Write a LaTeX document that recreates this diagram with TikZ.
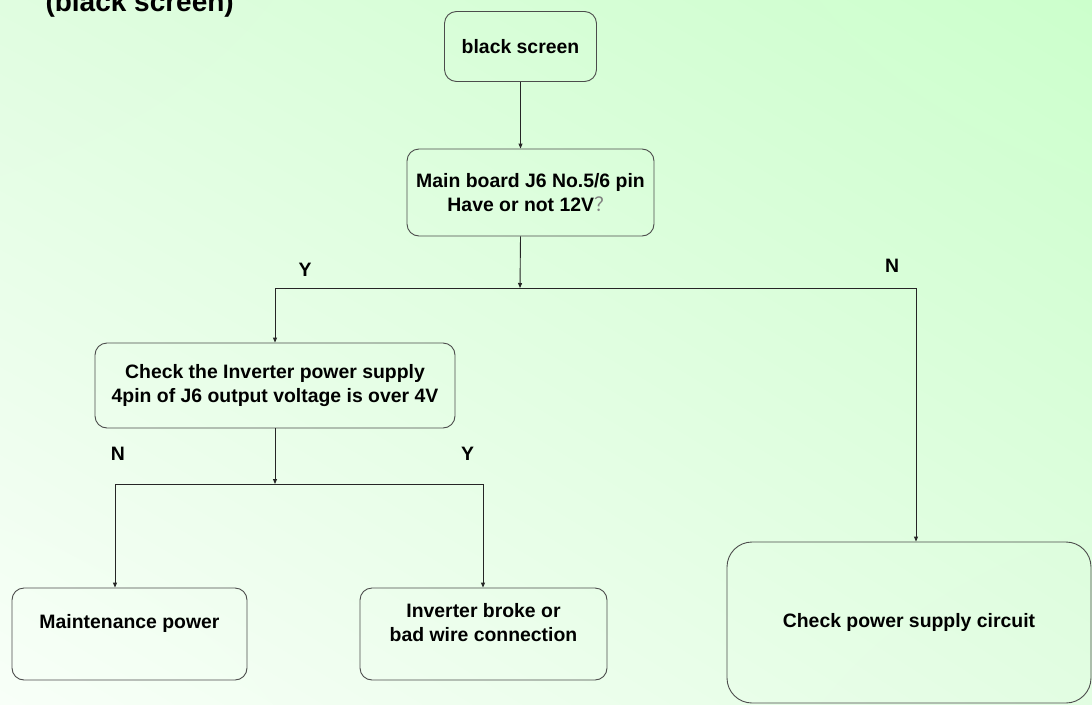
\documentclass[tikz,border=0pt]{standalone}
\usepackage{fontspec}
\setmainfont{Liberation Sans}
\newfontfamily\cjk{Noto Sans CJK SC}
\usetikzlibrary{arrows.meta,shadings}

\definecolor{bgul}{RGB}{224,253,224}
\definecolor{bgur}{RGB}{204,255,204}
\definecolor{bgll}{RGB}{248,255,248}
\definecolor{bglr}{RGB}{226,253,226}

\tikzset{
  box/.style={draw=black!70, line width=0.9pt, rounded corners=12pt, align=center,
    inner sep=0pt, font=\bfseries\fontsize{19.4}{24}\selectfont},
  boxtext/.style={align=center, font=\bfseries\fontsize{19.4}{24}\selectfont},
  arr/.style={draw=black!85, line width=0.9pt, -{Triangle[length=5pt,width=4pt]}},
  link/.style={draw=black!85, line width=0.9pt},
  yn/.style={font=\bfseries\fontsize{19.4}{24}\selectfont},
}

\begin{document}
\begin{tikzpicture}[x=1pt, y=-1pt]
        % Background
        \shade[upper left=bgul, upper right=bgur, lower left=bgll, lower right=bglr]
          (0,0) rectangle (1092,704);
        \useasboundingbox (0,0) rectangle (1092,704);

        % Title (cut at the top)
        \node[anchor=base west, font=\bfseries\fontsize{28}{32}\selectfont] (title) at (42,11) {(black screen)};

        % Boxes
        \node[box, minimum width=152pt, minimum height=70pt] (bs) at (520.5,46.5) {black screen};
        \node[box, minimum width=247pt, minimum height=87pt] (main) at (530.5,192.5)
          {Main board J6 No.5/6 pin\\Have or not 12V{\cjk\mdseries\color{gray}？}};
        \node[box, minimum width=360pt, minimum height=85pt] (chk) at (275,385.5)
          {Check the Inverter power supply\\4pin of J6 output voltage is over 4V};
        \node[box, minimum width=235pt, minimum height=92pt,
          label={[boxtext, yshift=11pt]center:Maintenance power}] (maint) at (129.5,634) {};
        \node[box, minimum width=247pt, minimum height=92pt,
          label={[boxtext, yshift=11pt]center:Inverter broke or\\bad wire connection}] (brk) at (483.5,634) {};
        \node[box, rounded corners=25pt, minimum width=364pt, minimum height=161pt] (pwr) at (909,622.5)
          {Check power supply circuit};

        % Yes / No labels
        \node[yn] (y1) at (305,269.5) {Y};
        \node[yn] (n1) at (892,266) {N};
        \node[yn] (n2) at (118,454) {N};
        \node[yn] (y2) at (467.5,454) {Y};

        % Branch points
        \coordinate (j1) at (520,288);
        \coordinate (jl) at (275,288);
        \coordinate (jr) at (916,288);
        \coordinate (j2) at (275,484);
        \coordinate (kl) at (115,484);
        \coordinate (kr) at (483,484);

        % Connectors
        \draw[arr] (bs.south) -- (main.north -| bs.south);
        \draw[arr] (main.south -| bs.south) -- (j1);
        \draw[link] (jl) -- (jr);
        \draw[arr] (jl) -- (chk.north);
        \draw[arr] (jr) -- (jr |- pwr.north);
        \draw[arr] (chk.south) -- (j2);
        \draw[link] (kl) -- (kr);
        \draw[arr] (kl) -- (kl |- maint.north);
        \draw[arr] (kr) -- (kr |- brk.north);
    \end{tikzpicture}
\end{document}
